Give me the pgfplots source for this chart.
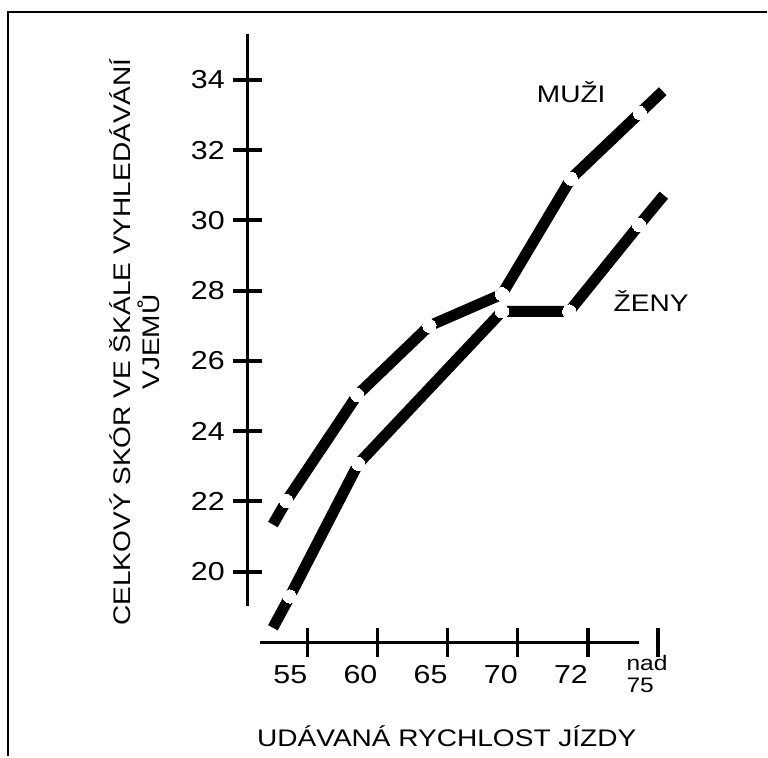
\documentclass[12pt,border=0pt]{standalone}
\usepackage{fontspec}
\setmainfont[FakeStretch=1.17]{Liberation Sans}
\usepackage{pgfplots}
\pgfplotsset{compat=1.18}

\begin{document}
\begin{tikzpicture}
\begin{axis}[
  scale only axis,
  width=209pt, height=304.5pt,
  xmin=-0.85, xmax=5.1,
  ymin=17.98, ymax=35.3,
  clip=false,
  axis x line=bottom,
  axis y line=left,
  x axis line style={-, line width=1.35pt, shorten <=6pt, shorten >=13pt},
  y axis line style={-, line width=1.35pt, shorten <=18.5pt},
  tick align=center,
  major tick length=14.5pt,
  xtick={0,1,2,3,4,5},
  xticklabels={55,60,65,70,72,
    {\raisebox{5pt}[\height][\depth]{\hspace*{6pt}\fontsize{10.5}{11}\selectfont\begin{tabular}{@{}l@{}}nad\\75\end{tabular}}}},
  ytick={20,22,...,34},
  xtick style={line width=1.6pt, black},
  ytick style={line width=2pt, black},
  minor tick num=0,
  /pgf/number format/assume math mode=true,
  tick label style={font=\fontsize{13}{15}\selectfont},
  xticklabel style={xshift=-8.5pt},
  xlabel={UDÁVANÁ RYCHLOST JÍZDY},
  xlabel style={at={(axis description cs:0.477,-0.171)}, anchor=base},
  ylabel={CELKOVÝ SKÓR VE ŠKÁLE VYHLEDÁVÁNÍ\\VJEMŮ},
  ylabel style={align=center, at={(axis description cs:-0.270,0.494)}, anchor=center},
]

% MUŽI
\addplot[black, line width=5.5pt, line cap=butt, line join=round,
  mark=*, mark indices={2,3,4,5,6,7}, mark size=3.3pt,
  mark options={fill=white, draw=white, line width=0pt}]
  coordinates {
  (-0.49,21.34) (-0.298,22.01) (0.713,25.03) (1.741,27.00)
  (2.776,27.90) (3.758,31.19) (4.740,33.06) (5.067,33.68)
  };

% ŽENY
\addplot[black, line width=5.5pt, line cap=butt, line join=round,
  mark=*, mark indices={2,3,4,5,6}, mark size=3.3pt,
  mark options={fill=white, draw=white, line width=0pt}]
  coordinates {
  (-0.49,18.40) (-0.249,19.29) (0.727,23.07) (2.776,27.41)
  (3.734,27.41) (4.730,29.87) (5.082,30.72)
  };

\node[anchor=base] at (axis cs:3.762,33.35) {MUŽI};
\node[anchor=base] at (axis cs:4.901,27.41) {ŽENY};

% page extent and frame
\path (axis cs:-4.380,36.278) rectangle (axis cs:6.553,14.744);
\draw[line width=1pt] (axis cs:-4.266,14.744) |- (axis cs:6.553,35.94);
\end{axis}
\end{tikzpicture}
\end{document}
